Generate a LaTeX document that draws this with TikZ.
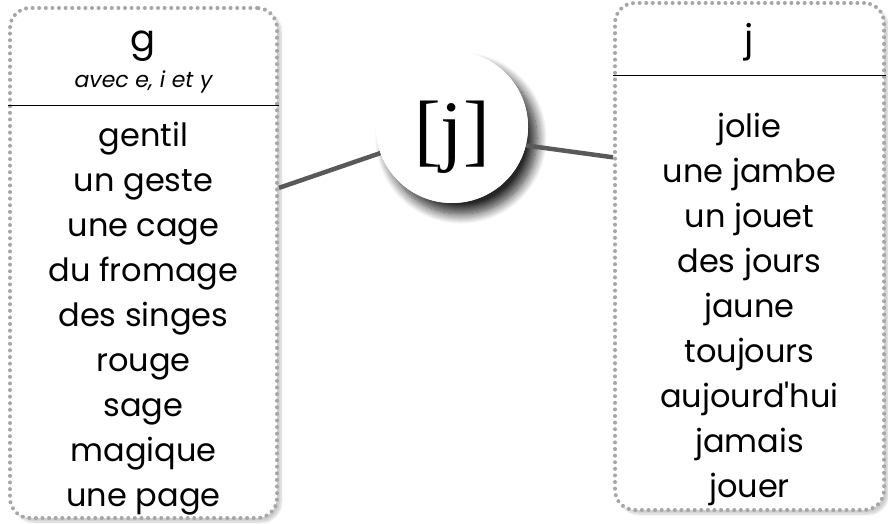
\documentclass[tikz,border=0pt]{standalone}
\usepackage{fontspec}
\setmainfont{Poppins}
\newfontfamily\wordfont{Poppins}
\newfontfamily\ipafont{Liberation Serif}
\usetikzlibrary{shadows.blur}

\begin{document}
\begin{tikzpicture}[x=1pt,y=1pt,font=\wordfont\fontsize{32}{36}\selectfont]
  \tikzstyle{wordbox}=[draw=black!35,line width=4pt,dash pattern=on 0pt off 6.6pt,line cap=round,rounded corners=20pt,fill=white,blur shadow={shadow xshift=4pt,shadow yshift=-4pt,shadow opacity=20,shadow blur steps=8}]
  \tikzstyle{link}=[line width=4.5pt,draw=black!65]
  \tikzstyle{word}=[anchor=base,inner sep=0pt]
  \useasboundingbox (0,0) rectangle (888,523);
  \node[wordbox,minimum width=267pt,minimum height=510pt] (gbox) at (143.5,260) {};
  \node[wordbox,minimum width=269pt,minimum height=507pt] (jbox) at (749.5,266.5) {};
  \draw[line width=1pt] (gbox.west |- 0,417) -- (gbox.east |- 0,417);
  \draw[line width=1pt] (jbox.west |- 0,447) -- (jbox.east |- 0,447);
  % headers
  \node[word,font=\wordfont\fontsize{37}{40}\selectfont] (ghead) at (143.5,471) {g};
  \node[word,font=\wordfont\fontsize{22}{24}\selectfont\itshape] (gnote) at (143.5,435) {avec e, i et y};
  \node[word,font=\wordfont\fontsize{37}{40}\selectfont] (jhead) at (749.5,471) {j};
  % word lists
  \foreach \w [count=\i] in {gentil,un geste,une cage,du fromage,des singes,rouge,sage,magique,une page}
    \node[word] (g\i) at (143.5,{376-44.9*(\i-1)}) {\w};
  \foreach \w [count=\i] in {jolie,une jambe,un jouet,des jours,jaune,toujours,aujourd'hui,jamais,jouer}
    \node[word] (j\i) at (749.5,{385-44.9*(\i-1)}) {\w};
  % sound
  \node[circle,fill=white,minimum size=152pt,inner sep=0pt,blur shadow={shadow xshift=9pt,shadow yshift=-11pt,shadow opacity=85,shadow blur steps=14,shadow blur radius=10pt}] (sound) at (452,396) {};
  \draw[link] (gbox.29.6) -- (sound.200);
  \draw[link] (sound.346) -- (jbox.144.5);
  \node[circle,fill=white,minimum size=152pt,inner sep=0pt] (soundtop) at (452,396) {};
  \node[font=\ipafont\fontsize{80}{80}\selectfont] (ipa) at (452,386) {[j]};
\end{tikzpicture}
\end{document}
